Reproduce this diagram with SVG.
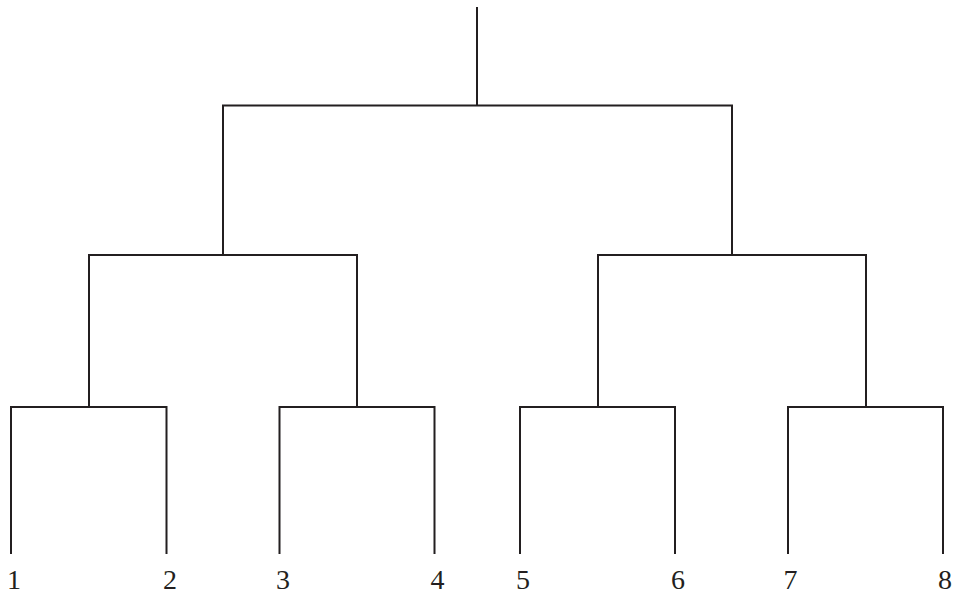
<svg xmlns="http://www.w3.org/2000/svg" width="959" height="599" viewBox="0 0 959 599">
<style>
.e{fill:none;stroke:#231f20;stroke-width:2;stroke-linecap:butt;stroke-linejoin:miter}
.l{font-family:"Liberation Serif","DejaVu Serif",serif;font-size:28px;fill:#231f20;text-anchor:middle}
</style>
<rect width="959" height="599" fill="#fff"/>
<g id="connectors">
<path class="e" d="M477,7V105.5"/>
<path class="e" d="M223,255V105.5H732V255"/>
<path class="e" d="M89,407V255H357V407"/>
<path class="e" d="M598,407V255H866V407"/>
<path class="e" d="M11,554V407H166.5V554"/>
<path class="e" d="M279.5,554V407H434.5V554"/>
<path class="e" d="M520,554V407H675V554"/>
<path class="e" d="M788,554V407H943V554"/>
</g>
<g id="n1"><text class="l" x="14" y="589">1</text></g>
<g id="n2"><text class="l" x="170" y="589">2</text></g>
<g id="n3"><text class="l" x="283" y="589">3</text></g>
<g id="n4"><text class="l" x="437.5" y="589">4</text></g>
<g id="n5"><text class="l" x="523" y="589">5</text></g>
<g id="n6"><text class="l" x="678" y="589">6</text></g>
<g id="n7"><text class="l" x="790.5" y="589">7</text></g>
<g id="n8"><text class="l" x="945" y="589">8</text></g>
</svg>
